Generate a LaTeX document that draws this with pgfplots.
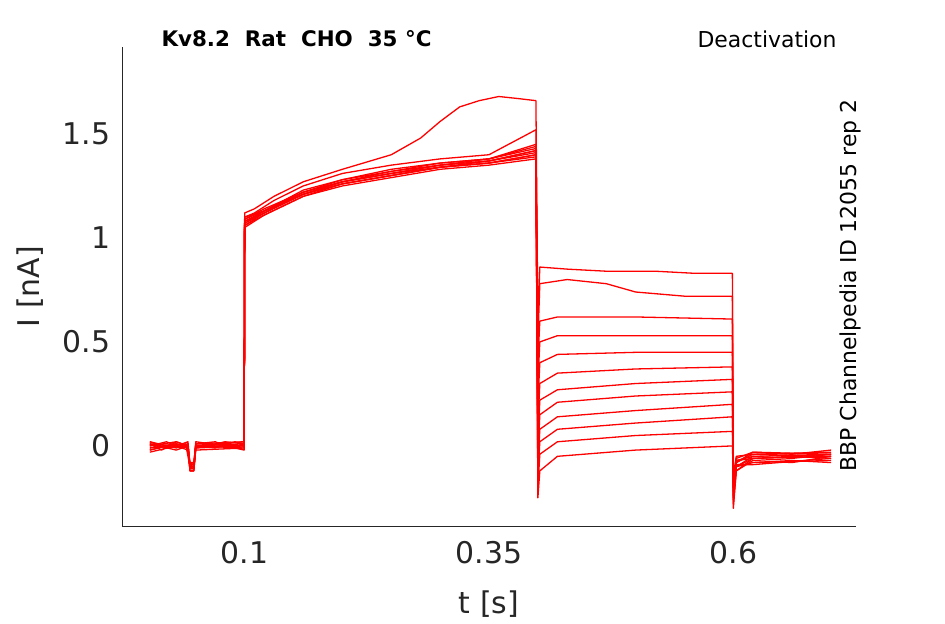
\documentclass[border=0pt]{standalone}
\usepackage{pgfplots}
\pgfplotsset{compat=1.18}
\usepackage{fontspec}
\setmainfont{DejaVu Sans}
\definecolor{tc}{HTML}{262626}
\begin{document}
\begin{tikzpicture}
\path[use as bounding box] (-122bp,-98bp) rectangle (823bp,526bp);
\begin{axis}[at={(0,0)},anchor=south west,scale only axis,width=734bp,height=479bp,
 xmin=-0.0255,xmax=0.7255,ymin=-0.385,ymax=1.918,
 axis x line*=bottom,axis y line*=left,axis line style={tc,line width=0.6pt},
 xtick={0.1,0.35,0.6},xticklabels={0.1,0.35,0.6},ytick={0,0.5,1,1.5},yticklabels={0,0.5,1,1.5},
 tick align=outside,major tick length=0pt,
 ticklabel style={font=\fontsize{30}{32}\selectfont,text=tc},
 xticklabel style={yshift=-12bp},yticklabel style={xshift=-8bp},
 /pgf/number format/assume math mode=true,
 xlabel={t [s]},ylabel={I [nA]},
 label style={font=\fontsize{30}{32}\selectfont,text=tc},
 xlabel style={at={(axis description cs:0.5,0)},anchor=center,yshift=-78bp},
 ylabel style={at={(axis description cs:0,0.5)},anchor=center,rotate=0,yshift=92bp},
 every axis plot post/.append style={red,line width=1.3pt,mark=none,solid,line join=round},clip=false]
\addplot coordinates {(0.003,0.01)(0.015,-0.02)(0.03,0.02)(0.042,0.0)(0.044,-0.1)(0.048,-0.11)(0.05,0.01)(0.07,0.02)(0.085,-0.01)(0.0995,0.01)(0.1,1.12)(0.11,1.14)(0.13,1.2)(0.16,1.27)(0.2,1.33)(0.25,1.4)(0.28,1.48)(0.3,1.56)(0.32,1.63)(0.34,1.66)(0.36,1.68)(0.38,1.67)(0.398,1.66)(0.4,0.6)(0.402,0.86)(0.43,0.85)(0.47,0.84)(0.52,0.84)(0.56,0.83)(0.599,0.83)(0.6,-0.2)(0.603,-0.08)(0.62,-0.03)(0.66,-0.04)(0.7,-0.02)};
\addplot coordinates {(0.003,0.0)(0.02,0.02)(0.035,-0.01)(0.042,0.01)(0.044,-0.12)(0.048,-0.12)(0.05,0.0)(0.07,-0.01)(0.09,0.02)(0.0995,0.0)(0.1,1.1)(0.11,1.12)(0.13,1.18)(0.16,1.25)(0.2,1.31)(0.25,1.35)(0.3,1.38)(0.35,1.4)(0.398,1.52)(0.4,0.5)(0.402,0.78)(0.43,0.8)(0.47,0.78)(0.5,0.74)(0.55,0.72)(0.599,0.72)(0.6,-0.25)(0.603,-0.1)(0.62,-0.05)(0.66,-0.06)(0.7,-0.04)};
\addplot coordinates {(0.003,-0.02)(0.02,0.0)(0.04,0.01)(0.044,-0.08)(0.048,-0.09)(0.05,0.02)(0.08,0.0)(0.0995,-0.02)(0.1,1.08)(0.12,1.13)(0.16,1.23)(0.2,1.28)(0.25,1.33)(0.3,1.36)(0.35,1.38)(0.398,1.45)(0.4,0.4)(0.402,0.6)(0.42,0.62)(0.5,0.62)(0.599,0.61)(0.6,-0.28)(0.603,-0.12)(0.62,-0.06)(0.66,-0.05)(0.7,-0.06)};
\addplot coordinates {(0.003,0.02)(0.02,-0.01)(0.04,0.0)(0.044,-0.1)(0.048,-0.1)(0.05,-0.01)(0.08,0.02)(0.0995,0.01)(0.1,1.06)(0.12,1.12)(0.16,1.22)(0.2,1.27)(0.25,1.31)(0.3,1.35)(0.35,1.37)(0.398,1.42)(0.4,0.3)(0.402,0.5)(0.42,0.53)(0.5,0.53)(0.599,0.53)(0.6,-0.3)(0.603,-0.12)(0.62,-0.07)(0.66,-0.08)(0.7,-0.05)};
\addplot coordinates {(0.003,-0.01)(0.03,0.01)(0.042,-0.01)(0.044,-0.11)(0.048,-0.11)(0.05,0.0)(0.0995,0.0)(0.1,1.07)(0.12,1.13)(0.16,1.21)(0.2,1.26)(0.25,1.3)(0.3,1.34)(0.35,1.36)(0.398,1.4)(0.4,0.2)(0.402,0.4)(0.42,0.44)(0.5,0.45)(0.599,0.45)(0.6,-0.26)(0.603,-0.1)(0.62,-0.08)(0.7,-0.07)};
\addplot coordinates {(0.003,0.01)(0.03,-0.02)(0.042,0.0)(0.044,-0.09)(0.048,-0.1)(0.05,0.0)(0.0995,0.02)(0.1,1.09)(0.12,1.14)(0.16,1.22)(0.2,1.28)(0.25,1.32)(0.3,1.35)(0.35,1.38)(0.398,1.44)(0.4,0.1)(0.402,0.3)(0.42,0.35)(0.5,0.37)(0.599,0.38)(0.6,-0.24)(0.603,-0.1)(0.62,-0.06)(0.7,-0.08)};
\addplot coordinates {(0.003,-0.03)(0.03,0.0)(0.042,-0.02)(0.044,-0.1)(0.048,-0.1)(0.05,-0.02)(0.0995,-0.01)(0.1,1.05)(0.12,1.11)(0.16,1.2)(0.2,1.25)(0.25,1.29)(0.3,1.33)(0.35,1.35)(0.398,1.38)(0.4,0.0)(0.402,0.22)(0.42,0.27)(0.5,0.3)(0.599,0.32)(0.6,-0.22)(0.603,-0.09)(0.62,-0.09)(0.7,-0.06)};
\addplot coordinates {(0.003,0.0)(0.03,0.02)(0.042,0.0)(0.044,-0.08)(0.048,-0.08)(0.05,0.0)(0.0995,0.01)(0.1,1.08)(0.12,1.12)(0.16,1.21)(0.2,1.27)(0.25,1.31)(0.3,1.34)(0.35,1.37)(0.398,1.41)(0.4,-0.05)(0.402,0.15)(0.42,0.21)(0.5,0.24)(0.599,0.26)(0.6,-0.2)(0.603,-0.08)(0.62,-0.04)(0.7,-0.03)};
\addplot coordinates {(0.003,0.02)(0.03,-0.01)(0.042,0.01)(0.044,-0.1)(0.048,-0.1)(0.05,0.01)(0.0995,0.0)(0.1,1.1)(0.12,1.13)(0.16,1.22)(0.2,1.27)(0.25,1.32)(0.3,1.36)(0.35,1.38)(0.398,1.43)(0.4,-0.1)(0.402,0.08)(0.42,0.14)(0.5,0.17)(0.599,0.2)(0.6,-0.2)(0.603,-0.07)(0.62,-0.05)(0.7,-0.04)};
\addplot coordinates {(0.003,-0.01)(0.03,0.01)(0.042,-0.01)(0.044,-0.11)(0.048,-0.11)(0.05,0.0)(0.0995,-0.01)(0.1,1.06)(0.12,1.11)(0.16,1.2)(0.2,1.26)(0.25,1.3)(0.3,1.34)(0.35,1.36)(0.398,1.39)(0.4,-0.15)(0.402,0.02)(0.42,0.08)(0.5,0.11)(0.599,0.14)(0.6,-0.18)(0.603,-0.07)(0.62,-0.06)(0.7,-0.05)};
\addplot coordinates {(0.003,0.01)(0.03,0.0)(0.042,0.02)(0.044,-0.09)(0.048,-0.09)(0.05,0.01)(0.0995,0.02)(0.1,1.09)(0.12,1.13)(0.16,1.21)(0.2,1.27)(0.25,1.31)(0.3,1.35)(0.35,1.37)(0.398,1.42)(0.4,-0.2)(0.402,-0.04)(0.42,0.02)(0.5,0.05)(0.599,0.07)(0.6,-0.16)(0.603,-0.06)(0.62,-0.03)(0.7,-0.04)};
\addplot coordinates {(0.003,-0.02)(0.03,0.01)(0.042,0.0)(0.044,-0.12)(0.048,-0.12)(0.05,-0.01)(0.0995,0.0)(0.1,1.07)(0.12,1.12)(0.16,1.21)(0.2,1.26)(0.25,1.3)(0.3,1.34)(0.35,1.36)(0.398,1.4)(0.4,-0.25)(0.402,-0.12)(0.42,-0.05)(0.5,-0.02)(0.599,0.0)(0.6,-0.14)(0.603,-0.05)(0.62,-0.04)(0.7,-0.05)};
\end{axis}
\node[anchor=west,font=\bfseries\fontsize{21.5}{24}\selectfont] at (36bp,487bp) {Kv8.2\ \ Rat\ \ CHO\ \ 35 °C};
\node[anchor=east,font=\fontsize{22}{24}\selectfont] at (718bp,487bp) {Deactivation};
\node[rotate=90,anchor=east,font=\fontsize{22}{24}\selectfont] at (728bp,430bp) {BBP Channelpedia ID 12055 rep 2};
\end{tikzpicture}
\end{document}
